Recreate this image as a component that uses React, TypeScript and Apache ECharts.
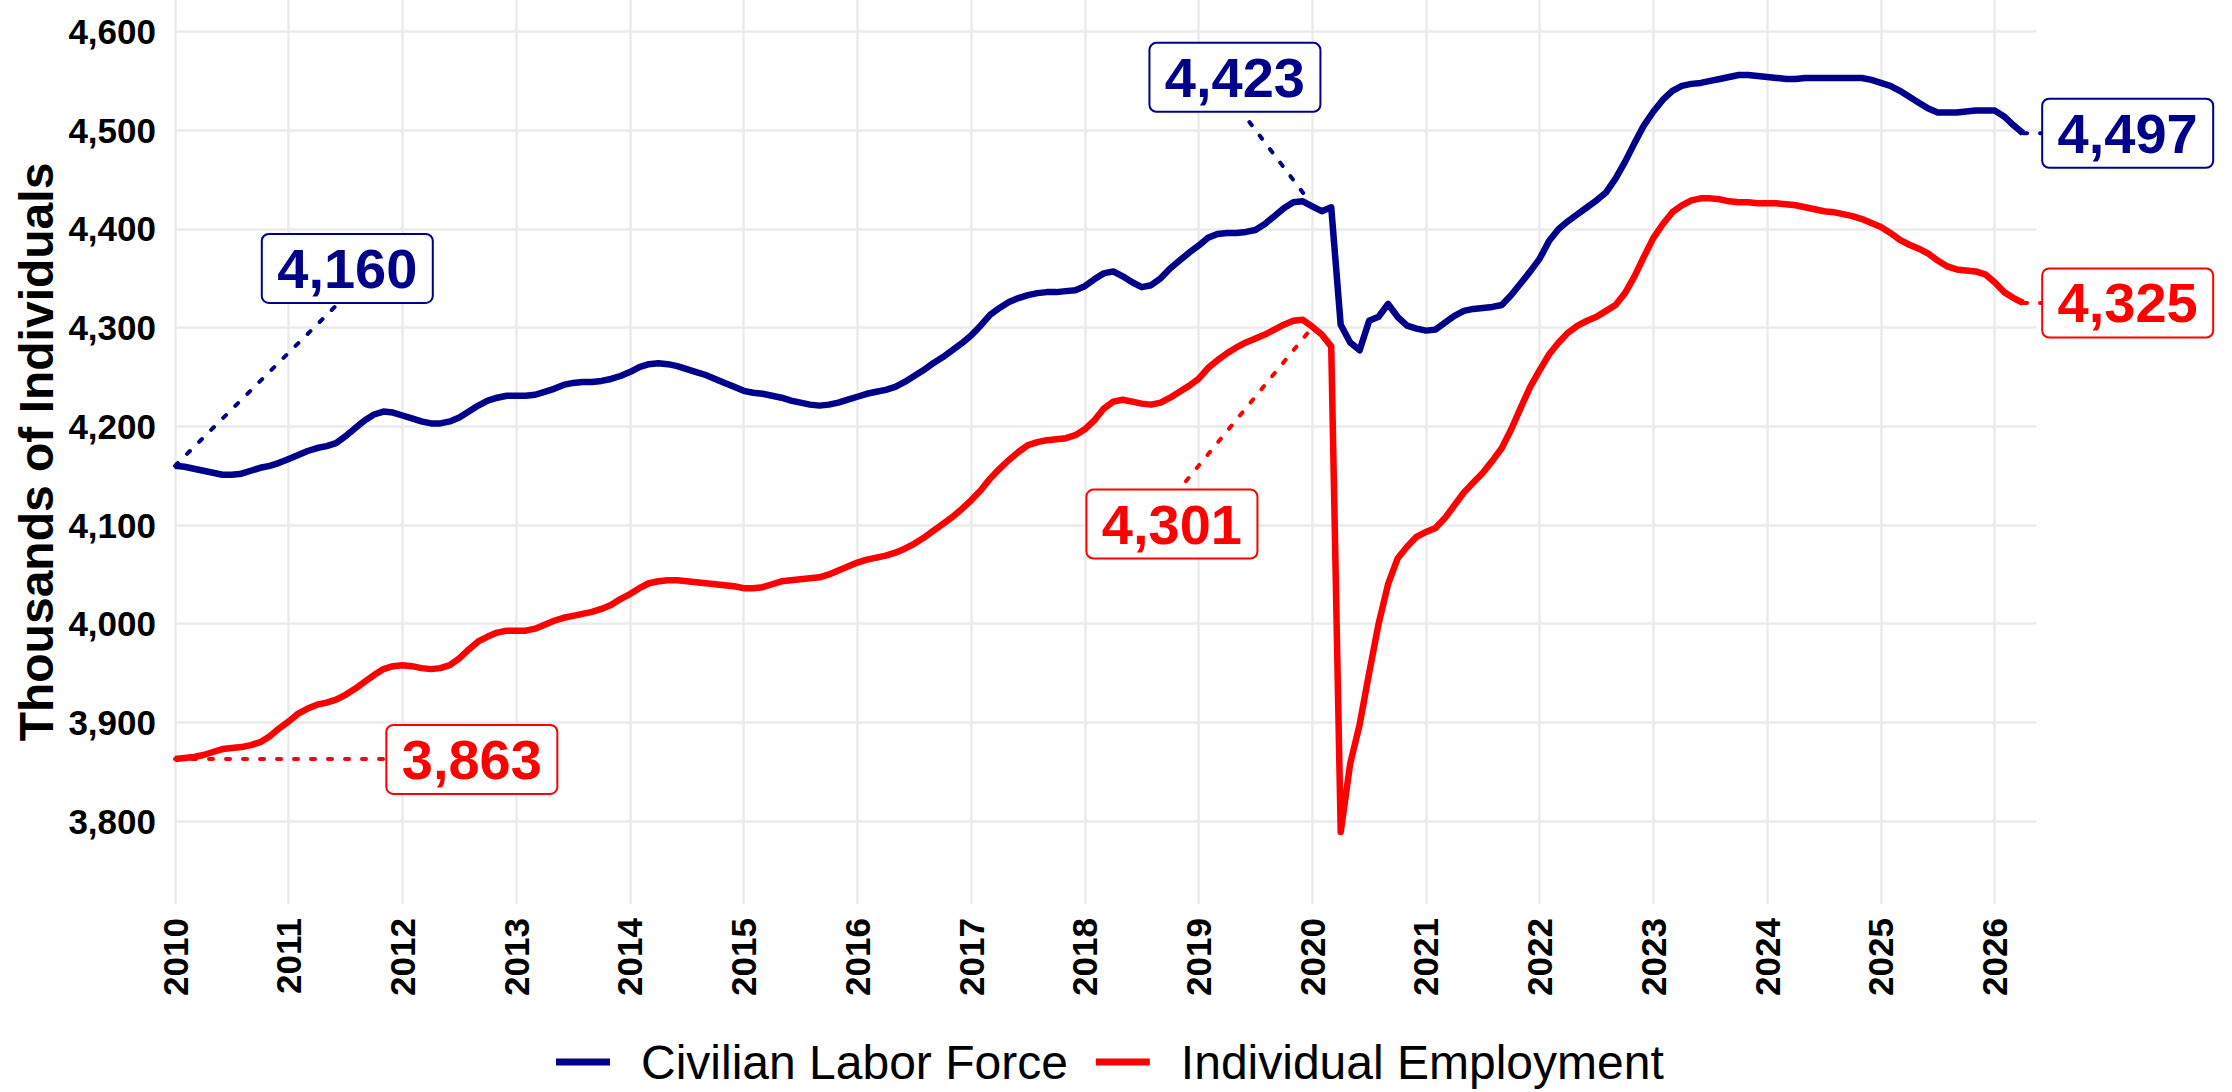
import React, { useEffect, useRef } from "react";
import * as echarts from "echarts";

const startYear = 2010;

const laborForce = [
  4160, 4159, 4157, 4155, 4153, 4151, 4151, 4152, 4155, 4158, 4160, 4163,
  4167, 4171, 4175, 4178, 4180, 4183, 4190, 4198, 4206, 4212, 4215, 4214,
  4211, 4208, 4205, 4203, 4203, 4205, 4209, 4215, 4221, 4226, 4229, 4231,
  4231, 4231, 4232, 4235, 4238, 4242, 4244, 4245, 4245, 4246, 4248, 4251,
  4255, 4260, 4263, 4264, 4263, 4261, 4258, 4255, 4252, 4248, 4244, 4240,
  4236, 4234, 4233, 4231, 4229, 4226, 4224, 4222, 4221, 4222, 4224, 4227,
  4230, 4233, 4235, 4237, 4240, 4245, 4251, 4257, 4264, 4270, 4277, 4284,
  4292, 4302, 4313, 4320, 4326, 4330, 4333, 4335, 4336, 4336, 4337, 4338,
  4342, 4349, 4355, 4357, 4352, 4346, 4341, 4343, 4350, 4360, 4368, 4376,
  4383, 4391, 4395, 4396, 4396, 4397, 4399, 4405, 4413, 4421, 4427, 4428,
  4423, 4418, 4422, 4303, 4285, 4277, 4307, 4311, 4324, 4311, 4302, 4299,
  4297, 4298, 4305, 4312, 4317, 4319, 4320, 4321, 4323, 4333, 4345, 4357,
  4370, 4388, 4400, 4408, 4415, 4422, 4429, 4437, 4451, 4468, 4487, 4505,
  4519, 4531, 4540, 4545, 4547, 4548, 4550, 4552, 4554, 4556, 4556, 4555,
  4554, 4553, 4552, 4552, 4553, 4553, 4553, 4553, 4553, 4553, 4553, 4551,
  4548, 4545, 4540, 4534, 4528, 4522, 4518, 4518, 4518, 4519, 4520, 4520,
  4520, 4514, 4505, 4497,
];

const employment = [
  3863, 3864, 3865, 3867, 3870, 3873, 3874, 3875, 3877, 3880, 3886, 3894,
  3901, 3909, 3914, 3918, 3920, 3923, 3928, 3934, 3941, 3948, 3954, 3957,
  3958, 3957, 3955, 3954, 3955, 3958, 3965, 3974, 3982, 3987, 3991, 3993,
  3993, 3993, 3995, 3999, 4003, 4006, 4008, 4010, 4012, 4015, 4019, 4025,
  4030, 4036, 4041, 4043, 4044, 4044, 4043, 4042, 4041, 4040, 4039, 4038,
  4036, 4036, 4037, 4040, 4043, 4044, 4045, 4046, 4047, 4050, 4054, 4058,
  4062, 4065, 4067, 4069, 4072, 4076, 4081, 4087, 4094, 4101, 4108, 4116,
  4125, 4135, 4147, 4157, 4166, 4174, 4181, 4184, 4186, 4187, 4188, 4191,
  4197, 4206, 4218, 4225, 4227, 4225, 4223, 4222, 4224, 4229, 4235, 4241,
  4248, 4259, 4267, 4274, 4280, 4285, 4289, 4293, 4298, 4303, 4307, 4308,
  4301, 4293, 4281, 3789, 3858, 3898, 3950, 4000, 4040, 4066, 4078, 4088,
  4093, 4097, 4107, 4120, 4133, 4143, 4153, 4165, 4178, 4197, 4219, 4240,
  4257, 4273, 4285, 4295, 4302, 4307, 4311, 4317, 4323, 4335, 4352, 4372,
  4391, 4405, 4417, 4424, 4429, 4431, 4431, 4430, 4428, 4427, 4427, 4426,
  4426, 4426, 4425, 4424, 4422, 4420, 4418, 4417, 4415, 4413, 4410, 4406,
  4402, 4396, 4389, 4384, 4380, 4375, 4368, 4362, 4359, 4358, 4357, 4354,
  4346, 4336, 4330, 4325,
];

const yTicks = [3800, 3900, 4000, 4100, 4200, 4300, 4400, 4500, 4600];
const xTicks = [2010, 2011, 2012, 2013, 2014, 2015, 2016, 2017, 2018, 2019, 2020, 2021, 2022, 2023, 2024, 2025, 2026];

const seriesNames = ["Civilian Labor Force", "Individual Employment"];
const seriesColors = ["#00008B", "#FF0000"];

// annotation labels (data coordinates)
const annValues = [4160, 4423, 4497, 3863, 4301, 4325];
const annSeries = [0, 0, 0, 1, 1, 1];
const annBoxX = [2011.515, 2019.32, 2027.17, 2012.61, 2018.766, 2027.17];
const annBoxY = [4360, 4553.6, 4497, 3862.5, 4101, 4325];
const annFromX = [2010, 2019.92, 2026.25, 2010, 2019.955, 2026.25];
const annFromY = [4160, 4436.5, 4497, 3863, 4294, 4325];
const annToX = [2011.44, 2019.38, 2026.416, 2011.847, 2018.84, 2026.416];
const annToY = [4325, 4518.6, 4497, 3863, 4137.5, 4325];

const FONT = '"Liberation Sans", Arial, Helvetica, sans-serif';
const fmt = (v: number) => v.toLocaleString("en-US");

export default function App() {
  const ref = useRef<HTMLDivElement>(null);

  useEffect(() => {
    if (!ref.current) return;
    const chart = echarts.init(ref.current, null, { renderer: "svg" });

    const toPairs = (arr: number[]) => arr.map((v, i) => [startYear + i / 12, v]);

    const gridLines: any[] = [
      ...yTicks.map((v) => ({ yAxis: v })),
      ...xTicks.map((v) => ({ xAxis: v, label: { show: false } })),
    ];

    chart.setOption({
      animation: false,
      backgroundColor: "#ffffff",
      textStyle: { fontFamily: FONT },
      grid: { left: 175, right: 195.3, top: 0, bottom: 188, containLabel: false },
      xAxis: {
        type: "value",
        min: 2010,
        max: 2026.37,
        interval: 1,
        axisLine: { show: false },
        axisTick: { show: false },
        splitLine: { show: false },
        axisLabel: {
          rotate: 90,
          margin: 14,
          fontSize: 35,
          fontWeight: "bold",
          color: "#000",
          fontFamily: FONT,
          formatter: (v: number) => (Number.isInteger(v) ? String(v) : ""),
        },
      },
      yAxis: {
        type: "value",
        min: 3716,
        max: 4632,
        axisLine: { show: false },
        axisTick: { show: false },
        splitLine: { show: false },
        axisLabel: { show: false },
      },
      legend: {
        data: seriesNames,
        left: 551,
        top: 1032,
        itemWidth: 54,
        itemHeight: 7,
        itemGap: 28,
        icon: "rect",
        textStyle: { fontSize: 48, lineHeight: 50, color: "#000", fontFamily: FONT, padding: [0, 0, 0, 26] },
      },
      series: [
        {
          type: "line",
          name: "gridlines",
          data: [],
          z: 1,
          silent: true,
          markLine: {
            silent: true,
            z: 1,
            symbol: ["none", "none"],
            animation: false,
            lineStyle: { color: "#EBEBEB", width: 2.5, type: "solid" },
            emphasis: { disabled: true },
            label: {
              show: true,
              position: "start",
              distance: 19,
              fontSize: 35,
              fontWeight: "bold",
              color: "#000",
              fontFamily: FONT,
              formatter: (p: any) => fmt(p.value),
            },
            data: gridLines,
          },
        },
        ...seriesNames.map((name, k) => ({
          type: "line",
          name,
          data: toPairs(k === 0 ? laborForce : employment),
          showSymbol: false,
          symbol: "none",
          z: 3,
          color: seriesColors[k],
          lineStyle: { color: seriesColors[k], width: 6.5, join: "round" },
          emphasis: { disabled: true },
        })),
      ],
    });

    const graphics: any[] = [];
    annValues.forEach((v, i) => {
      const color = seriesColors[annSeries[i]];
      const c = chart.convertToPixel({ xAxisIndex: 0, yAxisIndex: 0 }, [annBoxX[i], annBoxY[i]]) as number[];
      const a = chart.convertToPixel({ xAxisIndex: 0, yAxisIndex: 0 }, [annFromX[i], annFromY[i]]) as number[];
      const b = chart.convertToPixel({ xAxisIndex: 0, yAxisIndex: 0 }, [annToX[i], annToY[i]]) as number[];
      graphics.push({
        type: "line",
        silent: true,
        z: 10,
        shape: { x1: a[0], y1: a[1], x2: b[0], y2: b[1] },
        style: { stroke: color, lineWidth: 4, lineDash: [4, 13], lineCap: "round" },
      });
      const w = 171;
      const h = 69;
      graphics.push({
        type: "rect",
        silent: true,
        z: 11,
        shape: { x: c[0] - w / 2, y: c[1] - h / 2, width: w, height: h, r: 7 },
        style: { fill: "#ffffff", stroke: color, lineWidth: 2 },
      });
      graphics.push({
        type: "text",
        silent: true,
        z: 12,
        x: c[0],
        y: c[1],
        style: {
          text: fmt(v),
          fill: color,
          font: `bold 56px ${FONT}`,
          textAlign: "center",
          textVerticalAlign: "middle",
          align: "center",
          verticalAlign: "middle",
        },
      });
    });
    graphics.push({
      type: "text",
      silent: true,
      z: 12,
      x: 36,
      y: 452,
      rotation: Math.PI / 2,
      style: {
        text: "Thousands of Individuals",
        fill: "#000",
        font: `bold 48px ${FONT}`,
        textAlign: "center",
        textVerticalAlign: "middle",
        align: "center",
        verticalAlign: "middle",
      },
    });
    chart.setOption({ graphic: graphics });

    return () => chart.dispose();
  }, []);

  return (
    <div
      ref={ref}
      style={{ position: "fixed", left: 0, top: 0, width: 2232, height: 1092, background: "#fff" }}
    />
  );
}
